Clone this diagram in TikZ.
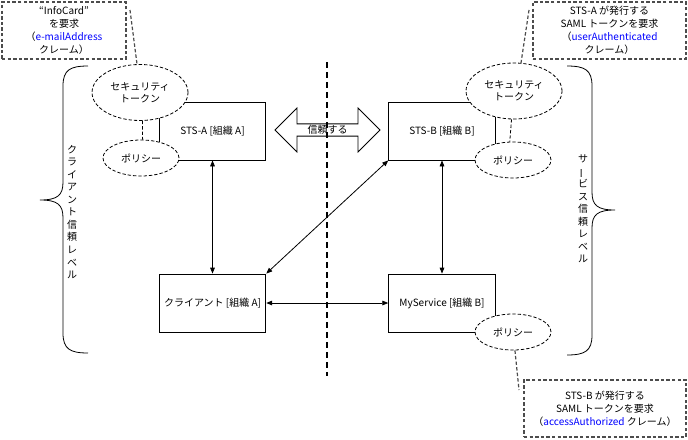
\documentclass[tikz,border=0pt]{standalone}
\usepackage{fontspec}
\setmainfont{Noto Sans CJK JP}
\usetikzlibrary{arrows.meta, shapes.geometric, shapes.arrows, positioning}

\begin{document}
\begin{tikzpicture}[x = 0.75pt, y = -0.75pt, line width = 0.6pt,
  >={Triangle[length = 4.5pt, width = 3.5pt]},
  font = \fontsize{7.5pt}{9.75pt}\selectfont,
  org/.style = {draw, rectangle, minimum width = 80pt, minimum height = 43.5pt, inner sep = 0},
  token/.style = {draw, ellipse, dash pattern = on 2.5pt off 1.5pt, fill = white, minimum width = 72pt, minimum height = 42pt, align = center, inner sep = 0, font = \fontsize{7.5pt}{8.8pt}\selectfont},
  policy/.style = {draw, ellipse, dash pattern = on 2.5pt off 1.5pt, fill = white, minimum width = 57pt, minimum height = 27pt, inner sep = 0},
  claim/.style = {draw = black!70, line width = 0.9pt, dash pattern = on 2.6pt off 1.6pt, minimum height = 42.75pt, align = center, inner sep = 0},
  claimline/.style = {draw = black!70, line width = 0.9pt, dash pattern = on 2.6pt off 1.6pt},
  link/.style = {dash pattern = on 2.5pt off 1.5pt},
  vtext/.style = {align = center, font = \fontsize{7.5pt}{9.4pt}\selectfont}]
\useasboundingbox (0,0) rectangle (688,439);

% organisations
\node[org] (stsa) at (212.5,131) {STS-A [組織 A]};
\node[org] (stsb) at (442,131) {STS-B [組織 B]};
\node[org] (client) at (212.5,303) {クライアント [組織 A]};
\node[org] (mysvc) at (442,303) {MyService [組織 B]};

% tokens and policies
\node[token] (toka) at (140,92.5) {セキュリティ\\トークン};
\node[policy] (pola) at (141,158) {ポリシー};
\node[token] (tokb) at (514,91) {セキュリティ\\トークン};
\node[policy] (polb) at (513,160) {ポリシー};
\node[policy] (polc) at (513,332) {ポリシー};
\draw[link] (toka.-85) -- (pola.85);
\draw[link] (tokb.-95) -- (polb.100);

% claims
\node[claim, minimum width = 93pt] (reqa) at (64,30.5) {“InfoCard”\\を要求\\（\textcolor{blue}{e-mailAddress}\\クレーム）};
\node[claim, minimum width = 114.75pt] (reqb) at (609.5,30.5) {STS-A が発行する\\SAML トークンを要求\\（\textcolor{blue}{userAuthenticated}\\クレーム）};
\node[claim, minimum width = 121.5pt] (reqc) at (605,408.5) {STS-B が発行する\\SAML トークンを要求\\（\textcolor{blue}{accessAuthorized} クレーム）};
\coordinate (pina) at (130,10);
\coordinate (pinb) at (529,10);
\coordinate (pinc) at (519,390);
\draw[claimline] (pina) -- (toka.96);
\draw[claimline] (pinb) -- (tokb.76);
\draw[claimline] (polc.-84) -- (pinc);

% trust boundary
\coordinate (divtop) at (327,62);
\coordinate (divbot) at (327,376);
\draw[line width = 1.4pt, dash pattern = on 4.5pt off 3pt] (divtop) -- (divbot);
\node[draw, double arrow, double arrow head extend = 9.75pt, minimum height = 78.75pt, minimum width = 33pt, inner sep = 0] (trust) at (327.5,130) {信頼する};

% messages
\draw[<->] (stsa) -- (client);
\draw[<->] (stsb) -- (mysvc);
\draw[<->] (client) -- (mysvc);
\draw[<->] (client.north east) -- (stsb.south west);

% trust levels
\draw (88,66) .. controls (70,66) and (63,70) .. (63,86) -- (63,182)
  .. controls (63,195) and (58,200) .. (40,200)
  .. controls (58,200) and (63,205) .. (63,218) -- (63,333)
  .. controls (63,349) and (70,353) .. (88,353);
\draw (567,66) .. controls (585,66) and (592,70) .. (592,86) -- (592,192)
  .. controls (592,205) and (597,210) .. (615,210)
  .. controls (597,210) and (592,215) .. (592,228) -- (592,335)
  .. controls (592,351) and (585,355) .. (567,355);
\node[vtext] (clientlvl) at (72,212) {ク\\ラ\\イ\\ア\\ン\\ト\\信\\頼\\レ\\ベ\\ル};
\node[vtext] (svclvl) at (583,209) {サ\\\smash{\rotatebox[origin=c]{90}{ー}}\\ビ\\ス\\信\\頼\\レ\\ベ\\ル};
\end{tikzpicture}
\end{document}
